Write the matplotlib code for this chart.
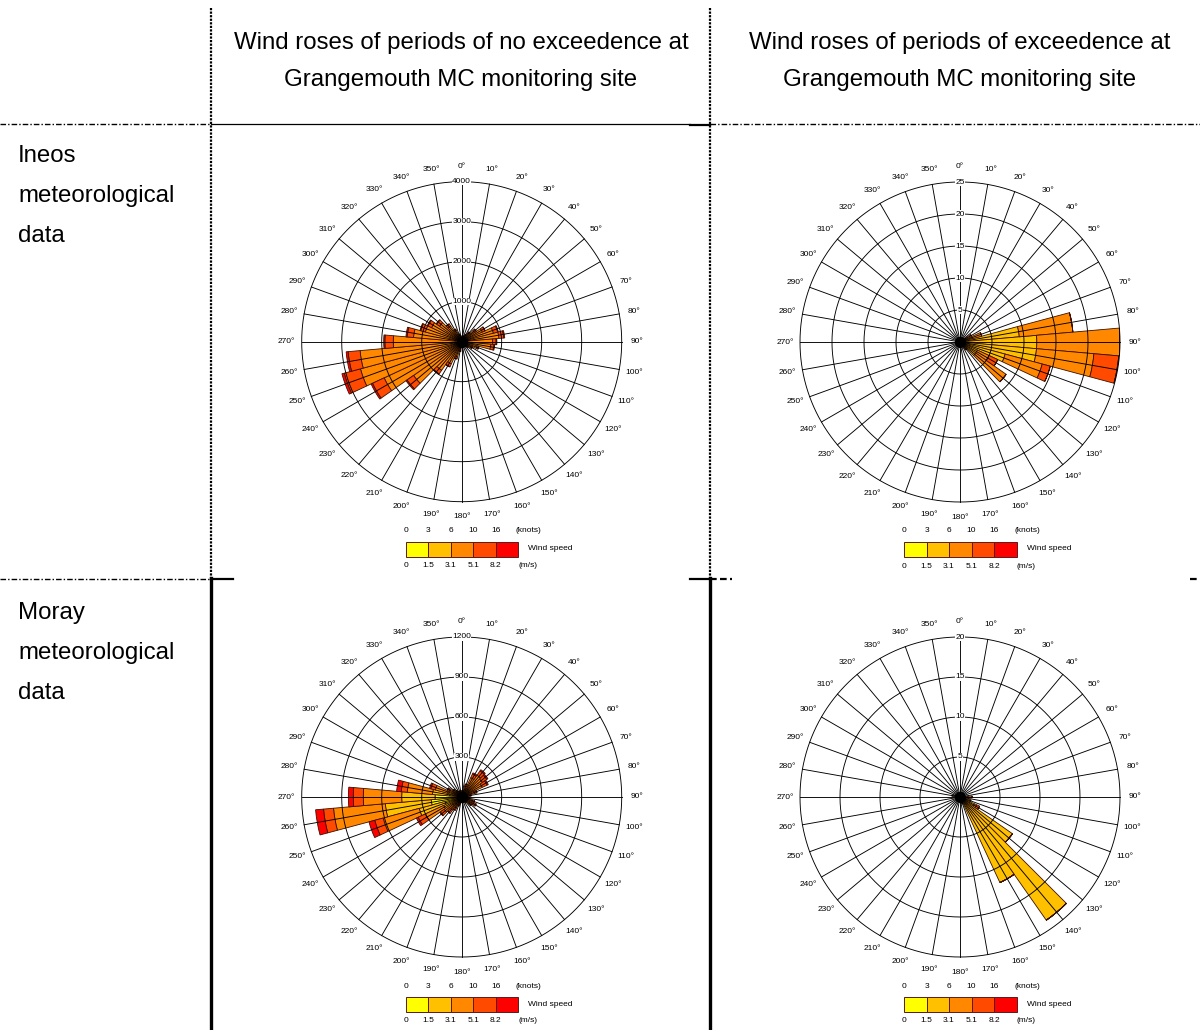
import numpy as np
import matplotlib
matplotlib.use('Agg')
import matplotlib.pyplot as plt

plt.rcParams['font.family'] = ['Liberation Sans', 'DejaVu Sans']

# wind direction sectors (degrees from north) and speed classes
directions = np.arange(0, 360, 10)
speed_colors = ['#FFFF00', '#FFC000', '#FF8800', '#FF4A00', '#FF0000']
knots_ticks = ['0', '3', '6', '10', '16']
ms_ticks = ['0', '1.5', '3.1', '5.1', '8.2']

# Ineos met data, periods of no exceedence (hours per speed class)
ineos_no_c1 = [10, 10, 10, 10, 15, 15, 20, 20, 25, 20, 20, 15, 15, 10, 10, 10, 10, 10,
               10, 15, 15, 20, 25, 30, 40, 50, 50, 40, 30, 25, 25, 20, 15, 15, 10, 10]
ineos_no_c2 = [20, 20, 25, 30, 35, 40, 50, 60, 70, 60, 60, 40, 30, 25, 20, 20, 15, 20,
               25, 30, 40, 50, 60, 80, 110, 130, 120, 100, 80, 70, 65, 55, 45, 35, 25, 20]
ineos_no_c3 = [80, 80, 100, 140, 215, 340, 500, 740, 840, 690, 650, 345, 220, 140, 100, 80, 65, 80,
               100, 175, 340, 540, 790, 1360, 1990, 2440, 2380, 1570, 1100, 845, 740, 600, 420, 260, 145, 105]
ineos_no_c4 = [10, 10, 15, 20, 30, 50, 70, 110, 120, 90, 80, 40, 30, 25, 20, 10, 10, 10,
               15, 25, 50, 80, 110, 200, 320, 420, 300, 210, 160, 120, 100, 90, 60, 35, 20, 15]
ineos_no_c5 = [0, 0, 0, 0, 5, 5, 10, 20, 25, 20, 20, 10, 5, 0, 0, 0, 0, 0,
               0, 5, 5, 10, 15, 30, 40, 60, 50, 30, 30, 20, 20, 15, 10, 5, 0, 0]

# Ineos met data, periods of exceedence
ineos_ex_c1 = [0, 0, 0, 0, 0, 0, 0, 0, 0.3, 0.5, 0.5, 0.3, 0, 0, 0, 0, 0, 0,
               0, 0, 0, 0, 0, 0, 0, 0, 0, 0, 0, 0, 0, 0, 0, 0, 0, 0]
ineos_ex_c2 = [0, 0, 0, 0, 0, 0, 1, 2, 9, 11.5, 11.5, 7, 3, 3, 1, 0, 0, 0,
               0, 0, 0, 0, 0, 0, 0, 0, 0, 0, 0, 0, 0, 0, 0, 0, 0, 0]
ineos_ex_c3 = [0, 0, 0, 0, 0, 0, 1, 1.5, 8.4, 13, 9, 6, 2, 5.8, 0.5, 0, 0, 0,
               0, 0, 0, 0, 0, 0, 0, 0, 0, 0, 0, 0, 0, 0, 0, 0, 0, 0]
ineos_ex_c4 = [0, 0, 0, 0, 0, 0, 0, 0, 0, 0, 3.9, 1.3, 1.5, 0, 0, 0, 0, 0,
               0, 0, 0, 0, 0, 0, 0, 0, 0, 0, 0, 0, 0, 0, 0, 0, 0, 0]
ineos_ex_c5 = [0] * 36

# Moray met data, periods of no exceedence
moray_no_c1 = [10, 10, 15, 20, 20, 20, 20, 15, 10, 10, 10, 15, 15, 15, 10, 10, 10, 10,
               10, 10, 15, 20, 25, 30, 60, 130, 230, 200, 90, 40, 25, 20, 15, 10, 10, 10]
moray_no_c2 = [15, 15, 25, 40, 50, 45, 40, 30, 20, 15, 20, 30, 35, 25, 15, 10, 10, 10,
               10, 15, 20, 30, 40, 55, 90, 200, 345, 250, 130, 70, 40, 30, 20, 15, 15, 15]
moray_no_c3 = [15, 20, 45, 100, 130, 125, 110, 55, 30, 20, 25, 40, 50, 35, 20, 15, 10, 10,
               10, 15, 25, 40, 55, 75, 150, 280, 390, 288, 190, 95, 40, 25, 20, 15, 15, 15]
moray_no_c4 = [5, 5, 15, 30, 40, 40, 40, 15, 10, 5, 5, 15, 20, 15, 5, 5, 0, 0,
               5, 5, 10, 20, 30, 35, 60, 65, 75, 75, 45, 35, 15, 5, 5, 5, 5, 5]
moray_no_c5 = [0, 0, 0, 10, 10, 10, 10, 5, 0, 0, 0, 0, 0, 0, 0, 0, 0, 0,
               0, 0, 0, 0, 0, 5, 15, 45, 60, 37, 35, 10, 0, 0, 0, 0, 0, 0]

# Moray met data, periods of exceedence
moray_ex_c1 = [0, 0, 0, 0, 0, 0, 0, 0, 0, 0.2, 0, 0.4, 0.5, 0.3, 0.5, 0.3, 0.3, 0,
               0, 0, 0, 0, 0, 0, 0, 0, 0, 0, 0, 0, 0, 0, 0, 0, 0, 0]
moray_ex_c2 = [0, 0, 0, 0, 0, 0, 0, 0, 0, 0.8, 0.5, 1.0, 1.5, 7.7, 18.3, 11.5, 0.5, 0,
               0, 0, 0, 0, 0, 0, 0, 0, 0, 0, 0, 0, 0, 0, 0, 0, 0, 0]
moray_ex_c3 = [0, 0, 0, 0, 0, 0, 0, 0, 0, 0.5, 0, 0, 0.3, 0, 0, 0, 0, 0,
               0, 0, 0, 0, 0, 0, 0, 0, 0, 0, 0.5, 0, 0, 0, 0, 0, 0, 0]
moray_ex_c4 = [0, 0, 0, 0, 0, 0, 0, 0, 0, 0, 0, 0, 0.4, 0, 0, 0, 0, 0,
               0, 0, 0, 0, 0, 0, 0, 0, 0, 0.3, 0.5, 0, 0, 0, 0, 0, 0, 0]
moray_ex_c5 = [0] * 36

W, H = 1200, 1030
fig = plt.figure(figsize=(W / 100, H / 100), dpi=100)
bg = fig.add_axes([0, 0, 1, 1])
bg.set_xlim(0, W)
bg.set_ylim(H, 0)
bg.axis('off')

# table grid
bg.plot([211, 211], [8, 578], color='black', lw=1.6, ls=(0, (1, 0.6)))
bg.plot([710, 710], [8, 578], color='black', lw=1.6, ls=(0, (1, 0.6)))
bg.plot([211, 211], [578, 1030], color='black', lw=2.4)
bg.plot([710, 710], [578, 1030], color='black', lw=2.4)
bg.plot([0, 211], [124, 124], color='black', lw=1.0, ls=(0, (4, 1.5, 1, 1.5)))
bg.plot([211, 690], [124, 124], color='black', lw=0.9)
bg.plot([690, 710], [124.5, 124.5], color='black', lw=1.6)
bg.plot([710, 1200], [124, 124], color='black', lw=1.0, ls=(0, (4, 1.5, 1, 1.5)))
bg.plot([0, 211], [579, 579], color='black', lw=1.0, ls=(0, (4, 1.5, 1, 1.5)))
bg.plot([211, 233], [579, 579], color='black', lw=1.6)
bg.plot([690, 710], [579, 579], color='black', lw=1.6)
bg.plot([710, 732], [579, 579], color='black', lw=1.6, ls=(0, (3, 1.5)))
bg.plot([1190, 1200], [579, 579], color='black', lw=1.6, ls=(0, (3, 1.5)))

# headings
head = dict(fontsize=17.3, ha='center', va='center')
bg.text(461, 43, 'Wind roses of periods of no exceedence at', **head)
bg.text(461, 80, 'Grangemouth MC monitoring site', **head)
bg.text(960, 43, 'Wind roses of periods of exceedence at', **head)
bg.text(960, 80, 'Grangemouth MC monitoring site', **head)
row = dict(fontsize=17.3, ha='left', va='center')
for i, s in enumerate(['Ineos', 'meteorological', 'data']):
    bg.text(18, 156 + 40 * i, s, **row)
for i, s in enumerate(['Moray', 'meteorological', 'data']):
    bg.text(18, 613 + 40 * i, s, **row)


def draw_rose(cx, cy, rmax, rings, classes):
    R = 160
    ax = fig.add_axes([(cx - R) / W, 1 - (cy + R) / H, 2 * R / W, 2 * R / H], projection='polar')
    ax.set_theta_zero_location('N')
    ax.set_theta_direction(-1)
    ax.set_ylim(0, rmax)
    ax.grid(False)
    ax.set_xticks([])
    ax.set_yticks([])
    ax.spines['polar'].set_visible(False)
    ax.patch.set_alpha(0)

    theta = np.radians(directions)
    bottom = np.zeros(len(directions))
    for vals, col in zip(classes, speed_colors):
        vals = np.array(vals, dtype=float)
        ax.bar(theta, vals, width=np.radians(10), bottom=bottom, color=col,
               edgecolor='#3a1000', linewidth=0.6, zorder=2)
        bottom += vals

    # rings and spokes over the bars
    t = np.linspace(0, 2 * np.pi, 361)
    for r in rings:
        ax.plot(t, np.full_like(t, r), color='black', lw=0.65, zorder=3, clip_on=False)
    for a in theta:
        ax.plot([a, a], [0, rmax], color='black', lw=0.65, zorder=3, clip_on=False)
    ax.plot(0, 0, 'o', ms=7, color='black', zorder=3)
    for r in rings:
        ax.text(0, r, f'{r:g}', ha='center', va='center', fontsize=6, zorder=4,
                bbox=dict(fc='white', ec='none', pad=0.2))
    for d in directions:
        ax.text(np.radians(d), rmax * 1.095, f'{d}°', ha='center', va='center', fontsize=6)

    # speed legend
    x0, bw = cx - 56, 22.5
    for i, col in enumerate(speed_colors):
        bg.add_patch(plt.Rectangle((x0 + i * bw, cy + 200), bw, 15, facecolor=col,
                                   edgecolor='#5a1a1a', lw=0.7))
        bg.text(x0 + i * bw, cy + 189, knots_ticks[i], ha='center', va='center', fontsize=6)
        bg.text(x0 + i * bw, cy + 224, ms_ticks[i], ha='center', va='center', fontsize=6)
    bg.text(cx + 67, cy + 189, '(knots)', ha='center', va='center', fontsize=6)
    bg.text(cx + 66, cy + 224, '(m/s)', ha='center', va='center', fontsize=6)
    bg.text(cx + 89, cy + 207, 'Wind speed', ha='center', va='center', fontsize=6)


draw_rose(461.7, 341.7, 4000, [1000, 2000, 3000, 4000],
          [ineos_no_c1, ineos_no_c2, ineos_no_c3, ineos_no_c4, ineos_no_c5])
draw_rose(960, 342, 25, [5, 10, 15, 20, 25],
          [ineos_ex_c1, ineos_ex_c2, ineos_ex_c3, ineos_ex_c4, ineos_ex_c5])
draw_rose(461.7, 797, 1200, [300, 600, 900, 1200],
          [moray_no_c1, moray_no_c2, moray_no_c3, moray_no_c4, moray_no_c5])
draw_rose(960, 797, 20, [5, 10, 15, 20],
          [moray_ex_c1, moray_ex_c2, moray_ex_c3, moray_ex_c4, moray_ex_c5])

fig.savefig('out.png', dpi=100)
